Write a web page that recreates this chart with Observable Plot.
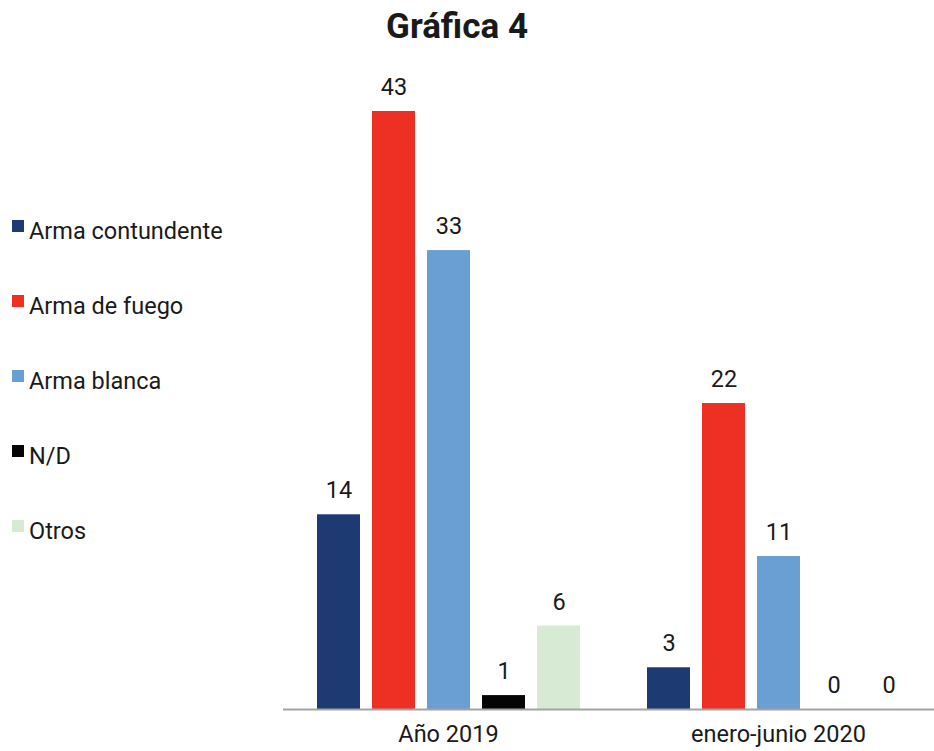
<!DOCTYPE html>
<html>
<head>
<meta charset="utf-8">
<script src="https://cdn.jsdelivr.net/npm/d3@7"></script>
<script src="https://cdn.jsdelivr.net/npm/@observablehq/plot@0.6"></script>
<style>
  html, body { margin: 0; padding: 0; background: #fff; }
  #wrap { position: relative; width: 934px; height: 751px; font-family: Roboto, "Open Sans", sans-serif; color: #1a1a1a; }
  #title { position: absolute; left: 0; top: 9px; width: 914px; text-align: center; font-size: 35px; line-height: 35px; font-weight: bold; color: #1a1a1a; }
  .lg-sq { position: absolute; left: 12px; width: 12px; height: 12px; }
  .lg-tx { position: absolute; left: 29px; font-size: 23.5px; line-height: 24px; white-space: nowrap; color: #1a1a1a; }
  #chart { position: absolute; left: 0; top: 0; }
</style>
</head>
<body>
<div id="wrap">
  <div id="chart"></div>
  <div id="title">Gráfica 4</div>
</div>
<script>
const groups = ["Año 2019", "enero-junio 2020"];
const categories = ["Arma contundente", "Arma de fuego", "Arma blanca", "N/D", "Otros"];
const values2019 = [14, 43, 33, 1, 6];
const values2020 = [3, 22, 11, 0, 0];
const colors = ["#1e3a72", "#ee3024", "#6a9fd4", "#050505", "#d7ead3"];

const seriesByGroup = [values2019, values2020];
const data = [];
groups.forEach((g, gi) => {
  categories.forEach((c, ci) => {
    data.push({group: g, category: c, value: seriesByGroup[gi][ci]});
  });
});

const chart = Plot.plot({
  width: 934,
  height: 751,
  marginLeft: 283,
  marginRight: -9,
  marginTop: 111,
  marginBottom: 42,
  style: {fontFamily: "Roboto, 'Open Sans', sans-serif", color: "#1a1a1a", background: "transparent"},
  fx: {domain: groups, padding: 0, label: null},
  x: {domain: categories, paddingInner: 0.22, paddingOuter: 0.61, axis: null},
  y: {domain: [0, 43], axis: null},
  color: {domain: categories, range: colors},
  marks: [
    Plot.barY(data, {fx: "group", x: "category", y: "value", fill: "category"}),
    Plot.ruleY([0], {stroke: "#a3a3a3", strokeWidth: 2}),
    Plot.text(data, {fx: "group", x: "category", y: "value", text: d => String(d.value), dy: -24, fontSize: 23.5, fill: "#1a1a1a"}),
    Plot.axisFx({anchor: "bottom", tickSize: 0, tickPadding: 16, fontSize: 23.5, label: null, fill: "#1a1a1a"})
  ]
});
document.getElementById("chart").appendChild(chart);

const wrap = document.getElementById("wrap");
categories.forEach((c, i) => {
  const sq = document.createElement("div");
  sq.className = "lg-sq";
  sq.style.top = (220 + i * 75) + "px";
  sq.style.background = colors[i];
  wrap.appendChild(sq);
  const tx = document.createElement("div");
  tx.className = "lg-tx";
  tx.style.top = (219 + i * 75) + "px";
  tx.textContent = c;
  wrap.appendChild(tx);
});
</script>
</body>
</html>
